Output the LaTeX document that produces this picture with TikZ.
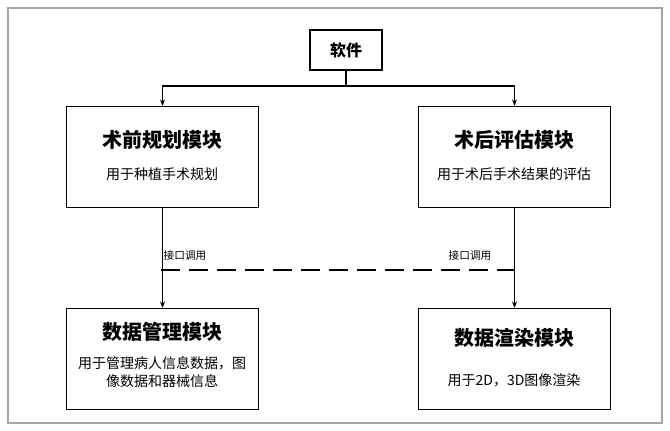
\documentclass[tikz,border=0pt]{standalone}
\usepackage{fontspec}
\setmainfont{Noto Sans CJK SC}
\usetikzlibrary{arrows.meta}

\begin{document}
\begin{tikzpicture}[
		x=0.75pt, y=-0.75pt,
		every node/.style={draw, line width=0.8pt, align=center},
		module/.style={minimum width=144pt, minimum height=76pt, anchor=north west},
		arr/.style={-{Stealth[length=5pt]}, line width=0.8pt}
	]
  \useasboundingbox (0,0) rectangle (670,431);
  \draw [gray!70, line width=0.8pt] (8,8) rectangle (662,423);
  \node (soft) [minimum width=54pt, minimum height=30pt, font=\bfseries\large] at (346,50) {软件};
  \node (pre) [module] at (66,106) {};
  \node [draw=none, font=\bfseries\fontsize{15}{18}\selectfont] at (162,140) {术前规划模块};
  \node [draw=none, font=\fontsize{10.5}{13}\selectfont] at (162,174) {用于种植手术规划};
  \node (post) [module] at (418,106) {};
  \node [draw=none, font=\bfseries\fontsize{15}{18}\selectfont] at (514,140) {术后评估模块};
  \node [draw=none, font=\fontsize{10.5}{13}\selectfont] at (514,174) {用于术后手术结果的评估};
  \node (data) [module] at (66,308) {};
  \node [draw=none, font=\bfseries\fontsize{15}{18}\selectfont] at (162,332) {数据管理模块};
  \node [draw=none, font=\fontsize{10.5}{14}\selectfont] at (162,372) {用于管理病人信息数据，图\\像数据和器械信息};
  \node (render) [module] at (418,308) {};
  \node [draw=none, font=\bfseries\fontsize{15}{18}\selectfont] at (514,338) {数据渲染模块};
  \node [draw=none, font=\fontsize{10.5}{13}\selectfont] at (514,380) {用于2D，3D图像渲染};
  \coordinate (split) at (346,86);
  \draw [line width=0.8pt] (soft.south) -- (split);
  \draw [arr] (split) -| (pre.north);
  \draw [arr] (split) -| (post.north);
  \draw [arr] (pre.south) -- (data.north);
  \draw [arr] (post.south) -- (render.north);
  \node (call_l) [draw=none, font=\fontsize{8}{10}\selectfont] at (185,255) {接口调用};
  \node (call_r) [draw=none, font=\fontsize{8}{10}\selectfont] at (470,255) {接口调用};
  \draw [dashed, line width=2pt, dash pattern=on 14pt off 7pt] (161,270) -- (514,270);
\end{tikzpicture}
\end{document}
